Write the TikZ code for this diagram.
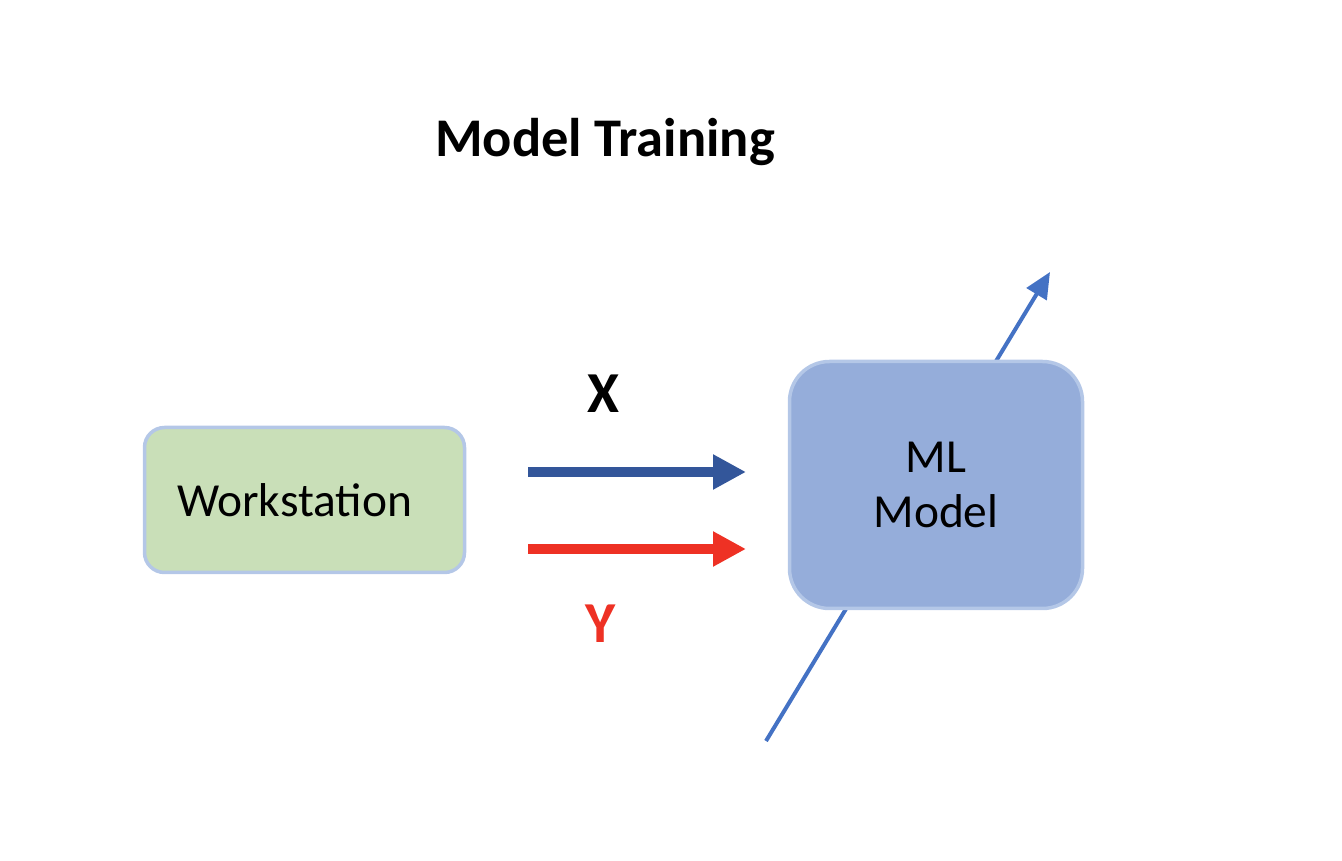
\documentclass[tikz,border=0pt]{standalone}
\usepackage{fontspec}
\setmainfont{Carlito}
\usetikzlibrary{arrows.meta}

\definecolor{wsgreen}{HTML}{C9DFB8}
\definecolor{edgeblue}{HTML}{B4C7E7}
\definecolor{mlblue}{HTML}{95ADDA}
\definecolor{xblue}{HTML}{33569A}
\definecolor{yred}{HTML}{EE3124}
\definecolor{lineblue}{HTML}{4472C4}

\begin{document}
\begin{tikzpicture}[
    box/.style={draw=edgeblue, line width=0.035cm, align=center,
                font=\fontsize{13.5}{15.6}\selectfont},
    flow/.style={line width=0.1cm, -{Triangle[length=3.3mm,width=3.3mm]}},
    lab/.style={anchor=base, font=\fontsize{16.5}{19}\selectfont\bfseries}
  ]
    \useasboundingbox (0,0) rectangle (13.42,8.6);

    % title
    \node[anchor=base, font=\fontsize{15.5}{18}\selectfont\bfseries] (title) at (6.05,7.03) {Model Training};

    % diagonal line behind the model
    \coordinate (lin) at (7.66,1.19);
    \coordinate (lout) at (10.50,5.88);
    \draw[lineblue, line width=0.04cm, -{Triangle[length=2.6mm,width=2.3mm]}] (lin) -- (lout);

    % boxes
    \node[box, fill=wsgreen, rounded corners=0.2cm, minimum width=3.2cm, minimum height=1.45cm] (ws) at (3.045,3.60) {\hspace*{-0.2cm}Workstation};
    \node[box, fill=mlblue, rounded corners=0.4cm, minimum width=2.93cm, minimum height=2.47cm] (ml) at (9.36,3.75) {ML\\Model};

    % inputs
    \coordinate (xs) at (5.28,3.88);
    \coordinate (xe) at (7.46,3.88);
    \coordinate (ys) at (5.28,3.11);
    \coordinate (ye) at (7.46,3.11);
    \draw[flow, xblue] (xs) -- (xe);
    \draw[flow, yred] (ys) -- (ye);

    % labels
    \node[lab] (xlab) at (6.03,4.47) {X};
    \node[lab, yred] (ylab) at (6.01,2.17) {Y};
\end{tikzpicture}
\end{document}
